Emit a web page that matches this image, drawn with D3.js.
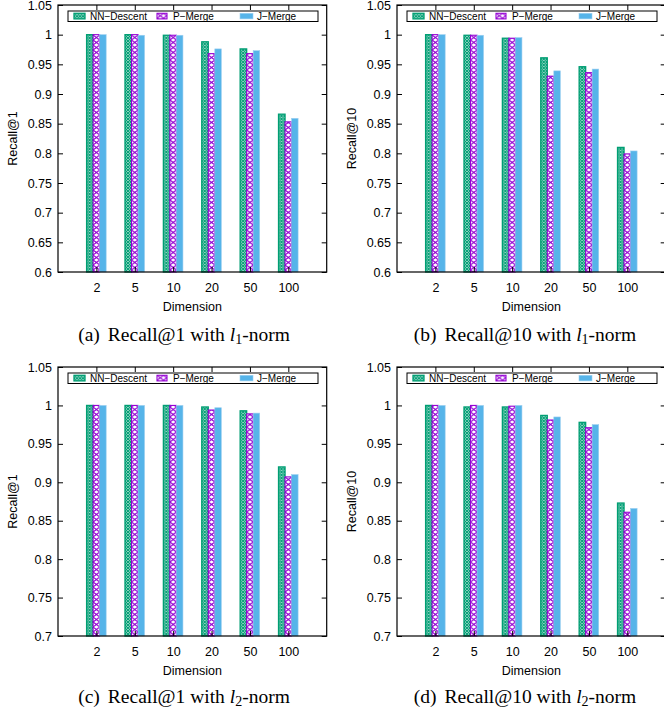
<!DOCTYPE html>
<html>
<head>
<meta charset="utf-8">
<script src="https://cdn.jsdelivr.net/npm/d3@7"></script>
<style>
  html, body { margin: 0; padding: 0; background: #fff; }
  svg { display: block; }
  .ax text { font-family: "Liberation Sans", Arial, sans-serif; font-size: 12.5px; fill: #000; }
  .ax path { display: none; }
  .ax line { stroke: #000; stroke-width: 1; }
</style>
</head>
<body>
<svg id="chart" width="664" height="713"></svg>
<script>
// ---------------- data ----------------
const dims = ["2", "5", "10", "20", "50", "100"];
const seriesNames = ["NN\u2212Descent", "P\u2212Merge", "J\u2212Merge"];

// (a) Recall@1, l1-norm
const a_nn = [1.000, 1.000, 0.999, 0.988, 0.976, 0.866];
const a_p  = [1.000, 1.000, 0.999, 0.968, 0.968, 0.853];
const a_j  = [1.000, 0.999, 0.999, 0.976, 0.973, 0.859];
// (b) Recall@10, l1-norm
const b_nn = [1.000, 0.999, 0.994, 0.961, 0.946, 0.810];
const b_p  = [1.000, 0.999, 0.994, 0.930, 0.936, 0.799];
const b_j  = [1.000, 0.999, 0.995, 0.939, 0.942, 0.804];
// (c) Recall@1, l2-norm
const c_nn = [1.000, 1.000, 1.000, 0.998, 0.993, 0.920];
const c_p  = [1.000, 1.000, 1.000, 0.994, 0.989, 0.907];
const c_j  = [1.000, 1.000, 1.000, 0.997, 0.990, 0.910];
// (d) Recall@10, l2-norm
const d_nn = [1.000, 0.998, 0.998, 0.987, 0.978, 0.873];
const d_p  = [1.000, 1.000, 0.999, 0.981, 0.971, 0.861];
const d_j  = [1.000, 1.000, 1.000, 0.985, 0.975, 0.866];

const yTicksL1 = [0.6, 0.65, 0.7, 0.75, 0.8, 0.85, 0.9, 0.95, 1, 1.05];
const yTicksL2 = [0.7, 0.75, 0.8, 0.85, 0.9, 0.95, 1, 1.05];
const yLabels = ["Recall@1", "Recall@10", "Recall@1", "Recall@10"];
const captionTags = ["(a)", "(b)", "(c)", "(d)"];
const captionMain = ["Recall@1 with ", "Recall@10 with ", "Recall@1 with ", "Recall@10 with "];
const captionSub = ["1", "1", "2", "2"];
const xTitle = "Dimension";

// ---------------- layout / style ----------------
const colors = ["#009e73", "#9400d3", "#56b4e9"];
const W = 268.7;
const panels = [
  { x: 58,  y: 5,   h: 267, dom: [0.6, 1.05], ticks: yTicksL1, data: [a_nn, a_p, a_j], capX: 184, capY: 341 },
  { x: 397, y: 5,   h: 267, dom: [0.6, 1.05], ticks: yTicksL1, data: [b_nn, b_p, b_j], capX: 525, capY: 341 },
  { x: 58,  y: 367, h: 269, dom: [0.7, 1.05], ticks: yTicksL2, data: [c_nn, c_p, c_j], capX: 184, capY: 703 },
  { x: 397, y: 367, h: 269, dom: [0.7, 1.05], ticks: yTicksL2, data: [d_nn, d_p, d_j], capX: 525, capY: 703 }
];

const svg = d3.select("#chart");
const defs = svg.append("defs");

const x = d3.scaleLinear().domain([0, 7]).range([0, W]);
const bwUnits = 0.17;
const bw = x(bwUnits) - x(0);
const offsets = [-bwUnits * 1.5, -bwUnits * 0.5, bwUnits * 0.5];

// patterns (userSpaceOnUse, anchored at each bar's local origin)
const pg = defs.append("pattern").attr("id", "pat0").attr("patternUnits", "userSpaceOnUse")
  .attr("width", 3).attr("height", 3);
pg.append("rect").attr("width", 3).attr("height", 3).attr("fill", "#fff");
pg.append("path").attr("d", "M0,0L3,3M3,0L0,3M-1,2L1,4M2,-1L4,1M-1,1L1,-1M2,4L4,2")
  .attr("stroke", colors[0]).attr("stroke-width", 1.15).attr("fill", "none");

const pp = defs.append("pattern").attr("id", "pat1").attr("patternUnits", "userSpaceOnUse")
  .attr("width", bw).attr("height", 10);
pp.append("rect").attr("width", bw).attr("height", 10).attr("fill", "#fff");
pp.append("path").attr("d", `M0,0L${bw},5L0,10M${bw},0L0,5L${bw},10`)
  .attr("stroke", colors[1]).attr("stroke-width", 1).attr("fill", "none");

const fills = ["url(#pat0)", "url(#pat1)", colors[2]];
const strokes = [colors[0], colors[1], "#9ccff0"];
const strokeW = [1.3, 1.1, 0.6];

panels.forEach((p, pi) => {
  const g = svg.append("g").attr("transform", `translate(${p.x},${p.y})`);
  const y = d3.scaleLinear().domain(p.dom).range([p.h, 0]);

  // bars
  p.data.forEach((vals, si) => {
    vals.forEach((v, ci) => {
      const bx = x(ci + 1 + offsets[si]);
      const bg = g.append("g").attr("transform", `translate(${bx},0)`);
      bg.append("rect")
        .attr("x", 0).attr("y", y(v))
        .attr("width", bw).attr("height", y(p.dom[0]) - y(v))
        .attr("fill", fills[si])
        .attr("stroke", strokes[si]).attr("stroke-width", strokeW[si]);
    });
  });

  // axes
  const fmt = d3.format("~g");
  g.append("g").attr("class", "ax")
    .call(d3.axisLeft(y).tickValues(p.ticks).tickSize(-5).tickPadding(6).tickFormat(fmt));
  g.append("g").attr("class", "ax").attr("transform", `translate(${W},0)`)
    .call(d3.axisRight(y).tickValues(p.ticks).tickSize(-5).tickFormat(""));
  g.append("g").attr("class", "ax").attr("transform", `translate(0,${p.h})`)
    .call(d3.axisBottom(x).tickValues(d3.range(1, dims.length + 1)).tickSize(-5).tickPadding(11)
      .tickFormat(d => dims[d - 1]));
  g.append("g").attr("class", "ax")
    .call(d3.axisTop(x).tickValues(d3.range(1, dims.length + 1)).tickSize(-5).tickFormat(""));

  // frame
  g.append("rect").attr("width", W).attr("height", p.h)
    .attr("fill", "none").attr("stroke", "#000").attr("stroke-width", 1.2);

  // axis titles
  g.append("text")
    .attr("x", x(3.5)).attr("y", p.h + 39)
    .attr("text-anchor", "middle")
    .style("font-family", "Liberation Sans, Arial, sans-serif").style("font-size", "12.5px")
    .text(xTitle);
  g.append("text")
    .attr("transform", `translate(${-41},${p.h / 2}) rotate(-90)`)
    .attr("text-anchor", "middle")
    .style("font-family", "Liberation Sans, Arial, sans-serif").style("font-size", "12.5px")
    .text(yLabels[pi]);

  // legend
  const lg = g.append("g").attr("transform", "translate(10,6)");
  lg.append("rect").attr("width", 250).attr("height", 10.5)
    .attr("fill", "#fff").attr("stroke", "#000").attr("stroke-width", 1);
  const sw = [[6, 11], [89, 10], [172, 13]];
  const tx = [22, 105, 189];
  seriesNames.forEach((name, si) => {
    const sg = lg.append("g").attr("transform", `translate(${sw[si][0]},2.3)`);
    sg.append("rect").attr("width", sw[si][1]).attr("height", 5.6)
      .attr("fill", fills[si]).attr("stroke", strokes[si]).attr("stroke-width", strokeW[si]);
    lg.append("text").attr("x", tx[si]).attr("y", 8.9)
      .style("font-family", "Liberation Sans, Arial, sans-serif").style("font-size", "10px")
      .text(name);
  });

  // caption
  const cap = svg.append("text")
    .attr("x", p.capX).attr("y", p.capY)
    .attr("text-anchor", "middle")
    .style("font-family", "Liberation Serif, Times New Roman, serif").style("font-size", "19.5px")
    .attr("fill", "#000");
  cap.append("tspan").text(captionTags[pi]);
  cap.append("tspan").attr("dx", 8).text(captionMain[pi]);
  cap.append("tspan").style("font-style", "italic").text("l");
  cap.append("tspan").attr("dy", 3).style("font-size", "14px").text(captionSub[pi]);
  cap.append("tspan").attr("dy", -3).text("-norm");
});
</script>
</body>
</html>
